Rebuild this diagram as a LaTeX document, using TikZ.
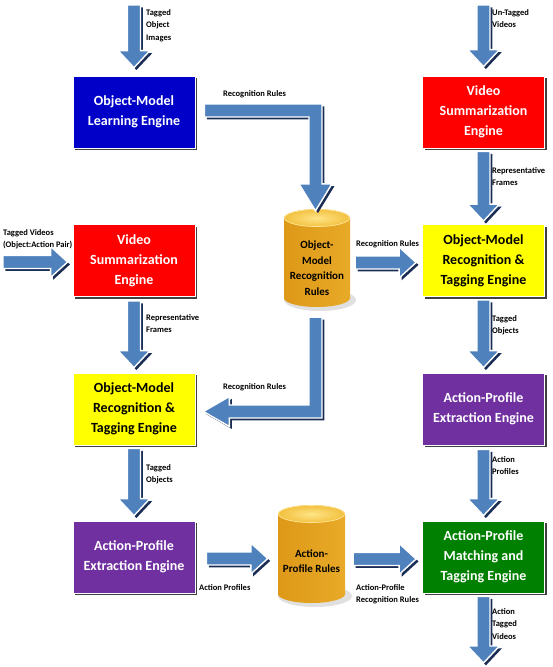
\documentclass[tikz,border=0pt]{standalone}
\usepackage{fontspec}
\setmainfont{Carlito}
\usetikzlibrary{calc,shadows}
\definecolor{boxblue}{RGB}{0,0,200}
\definecolor{boxred}{RGB}{255,0,0}
\definecolor{boxyellow}{RGB}{255,255,0}
\definecolor{boxpurple}{RGB}{112,48,160}
\definecolor{boxgreen}{RGB}{0,128,0}
\definecolor{arrowblue}{RGB}{79,129,189}
\definecolor{arrowshadow}{RGB}{25,45,85}
\definecolor{cylA}{RGB}{222,152,24}
\definecolor{cylB}{RGB}{255,214,92}
\definecolor{cylC}{RGB}{232,170,40}
\definecolor{cylTopIn}{RGB}{255,228,135}
\definecolor{cylTopOut}{RGB}{242,192,62}
\begin{document}
\begin{tikzpicture}[x=1pt,y=-1pt,
  engine/.style={rectangle, minimum width=122pt, minimum height=72pt, inner sep=0pt,
    align=center, font=\fontsize{14}{20}\selectfont\bfseries, text=white,
    draw=white, line width=0.8pt,
    drop shadow={shadow xshift=2.2pt, shadow yshift=-2.2pt, opacity=0.75, fill=black}},
  cylbox/.style={rectangle, minimum width=#1, minimum height=98pt, inner sep=0pt, draw=none},
  cyltext/.style={align=center, inner sep=0pt, font=\fontsize{11}{15.5}\selectfont\bfseries},
  lbl/.style={font=\fontsize{8.5}{12.5}\selectfont\bfseries, align=left, inner sep=0pt, anchor=north west},
  barrow/.style={fill=arrowblue, draw=white, line width=1.4pt,
    drop shadow={shadow xshift=2.4pt, shadow yshift=-2.4pt, opacity=1, fill=arrowshadow}},
  adown/.style={to path={let \p1=(\tikztostart), \p2=(\tikztotarget) in
    (\x1-6.5pt,\y1) -- (\x1+6.5pt,\y1) -- (\x1+6.5pt,\y2+17pt) -- (\x1+16pt,\y2+17pt)
    -- (\x1,\y2) -- (\x1-16pt,\y2+17pt) -- (\x1-6.5pt,\y2+17pt) -- cycle}},
  aright/.style={to path={let \p1=(\tikztostart), \p2=(\tikztotarget) in
    (\x1,\y1+6.5pt) -- (\x2-17pt,\y1+6.5pt) -- (\x2-17pt,\y1+15.5pt) -- (\x2,\y1)
    -- (\x2-17pt,\y1-15.5pt) -- (\x2-17pt,\y1-6.5pt) -- (\x1,\y1-6.5pt) -- cycle}},
  arightdown/.style={to path={let \p1=(\tikztostart), \p2=(\tikztotarget) in
    (\x1,\y1+6.5pt) -- (\x2+6.5pt,\y1+6.5pt) -- (\x2+6.5pt,\y2+27pt) -- (\x2+16.5pt,\y2+27pt)
    -- (\x2,\y2) -- (\x2-16.5pt,\y2+27pt) -- (\x2-6.5pt,\y2+27pt) -- (\x2-6.5pt,\y1-6.5pt)
    -- (\x1,\y1-6.5pt) -- cycle}},
  adownleft/.style={to path={let \p1=(\tikztostart), \p2=(\tikztotarget) in
    (\x1-6.5pt,\y1) -- (\x1+6.5pt,\y1) -- (\x1+6.5pt,\y2-6.5pt) -- (\x2+26pt,\y2-6.5pt)
    -- (\x2+26pt,\y2-15pt) -- (\x2,\y2) -- (\x2+26pt,\y2+15pt) -- (\x2+26pt,\y2+6.5pt)
    -- (\x1-6.5pt,\y2+6.5pt) -- cycle}}
]
\useasboundingbox (0,0) rectangle (553,667);

% ---------- engines ----------
\node[engine, fill=boxblue] (learn) at (134,112) {Object-Model\\Learning Engine};
\node[engine, fill=boxred] (vsumR) at (483.5,112) {Video\\Summarization\\Engine};
\node[engine, fill=boxred] (vsumL) at (134,260.5) {Video\\Summarization\\Engine};
\node[engine, fill=boxyellow, text=black] (omrR) at (483.5,260.5) {Object-Model\\Recognition \&\\Tagging Engine};
\node[engine, fill=boxyellow, text=black] (omrL) at (134,409) {Object-Model\\Recognition \&\\Tagging Engine};
\node[engine, fill=boxpurple] (apeR) at (483.5,409) {Action-Profile\\Extraction Engine};
\node[engine, fill=boxpurple] (apeL) at (134,557) {Action-Profile\\Extraction Engine};
\node[engine, fill=boxgreen] (apm) at (483.5,557) {Action-Profile\\Matching and\\Tagging Engine};

% ---------- cylinders ----------
% cylinder 1
\fill[black, opacity=0.12] (320,300) ellipse [x radius=36, y radius=11];
\shade[left color=cylA, middle color=cylB, right color=cylC] (284,218) rectangle (350,298);
\shade[left color=cylA, middle color=cylB, right color=cylC] (317,298) ellipse [x radius=33, y radius=9];
\shade[inner color=cylTopIn, outer color=cylTopOut] (317,218) ellipse [x radius=33, y radius=9];
\draw[cylB!60!white, line width=0.6pt] (317,218) ellipse [x radius=32.5, y radius=8.5];
\node[cylbox=66pt] (cyl1) at (317,258) {};
\node[cyltext] (cyl1t) at (317,268) {Object-\\Model\\Recognition\\Rules};
% cylinder 2
\fill[black, opacity=0.12] (315,596) ellipse [x radius=37, y radius=11];
\shade[left color=cylA, middle color=cylB, right color=cylC] (278,514) rectangle (345,594);
\shade[left color=cylA, middle color=cylB, right color=cylC] (311.5,594) ellipse [x radius=33.5, y radius=9];
\shade[inner color=cylTopIn, outer color=cylTopOut] (311.5,514) ellipse [x radius=33.5, y radius=9];
\draw[cylB!60!white, line width=0.6pt] (311.5,514) ellipse [x radius=33, y radius=8.5];
\node[cylbox=67pt] (cyl2) at (311.5,554) {};
\node[cyltext] (cyl2t) at (311.5,561) {Action-\\Profile Rules};

% ---------- free ends ----------
\coordinate (inL) at (134,5);
\coordinate (inR) at (483.5,5);
\coordinate (inV) at (3,262);
\coordinate (outR) at (483.5,663);

% ---------- arrows ----------
\draw[barrow] (inL) to[adown] ($(learn.north)+(0,-8)$);
\draw[barrow] (inR) to[adown] ($(vsumR.north)+(0,-9)$);
\draw[barrow] ($(learn.east)+(9,-1.5)$) to[arightdown] ($(cyl1.north)+(-1.5,2)$);
\draw[barrow] ($(cyl1.east)+(5,4.5)$) to[aright] ($(omrR.west)+(-6,2)$);
\draw[barrow] ($(vsumR.south)+(0,3)$) to[adown] ($(omrR.north)+(0,-3)$);
\draw[barrow] (inV) to[aright] ($(vsumL.west)+(-5,0)$);
\draw[barrow] ($(vsumL.south)+(0,4)$) to[adown] ($(omrL.north)+(0,-5)$);
\draw[barrow] ($(cyl1.south)+(-1.5,10)$) to[adownleft] ($(omrL.east)+(8,2.5)$);
\draw[barrow] ($(omrR.south)+(0,3)$) to[adown] ($(apeR.north)+(0,-5)$);
\draw[barrow] ($(omrL.south)+(0,3)$) to[adown] ($(apeL.north)+(0,-5)$);
\draw[barrow] ($(apeR.south)+(0,4)$) to[adown] ($(apm.north)+(0,-5)$);
\draw[barrow] ($(apeL.east)+(11,1.5)$) to[aright] ($(cyl2.west)+(-10,0)$);
\draw[barrow] ($(cyl2.east)+(8,5)$) to[aright] ($(apm.west)+(-6,0)$);
\draw[barrow] ($(apm.south)+(0,3)$) to[adown] (outR);

% ---------- labels ----------
\node[lbl] (l1) at (146,9) {Tagged\\Object\\Images};
\node[lbl] (l2) at (492,9) {Un-Tagged\\Videos};
\node[lbl] (l3) at (223,90) {Recognition Rules};
\node[lbl] (l4) at (356,240) {Recognition Rules};
\node[lbl] (l5) at (492,167) {Representative\\Frames};
\node[lbl] (l6) at (3,229) {Tagged Videos\\(Object:Action Pair)};
\node[lbl] (l7) at (146,314) {Representative\\Frames};
\node[lbl] (l8) at (223,383) {Recognition Rules};
\node[lbl] (l9) at (492,315) {Tagged\\Objects};
\node[lbl] (l10) at (146,464) {Tagged\\Objects};
\node[lbl] (l11) at (492,456) {Action\\Profiles};
\node[lbl] (l12) at (199,584) {Action Profiles};
\node[lbl] (l13) at (356,584) {Action-Profile\\Recognition Rules};
\node[lbl] (l14) at (492,608) {Action\\Tagged\\Videos};
\end{tikzpicture}
\end{document}
